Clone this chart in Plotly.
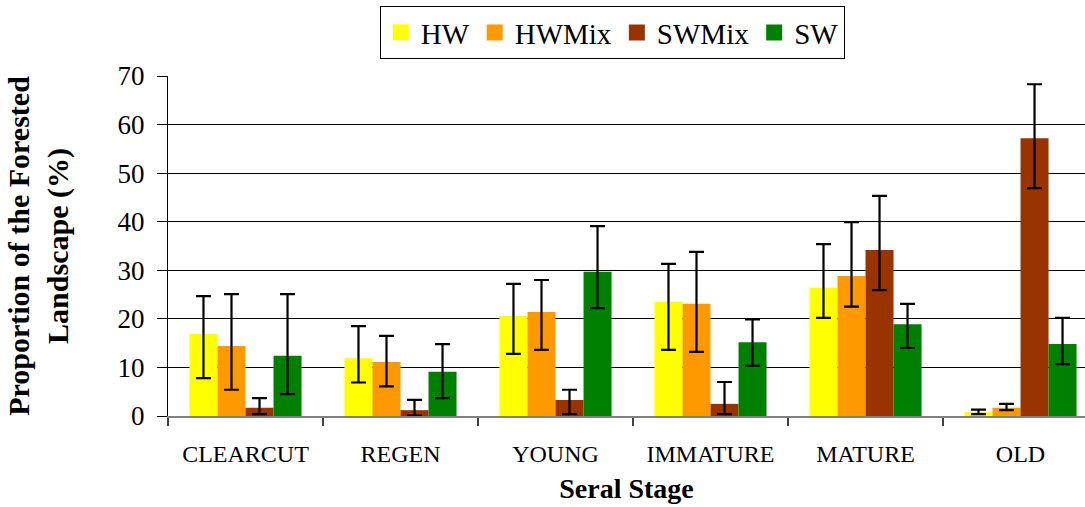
import plotly.graph_objects as go

categories = ["CLEARCUT", "REGEN", "YOUNG", "IMMATURE", "MATURE", "OLD"]
series_names = ["HW", "HWMix", "SWMix", "SW"]
colors = ["#FFFF00", "#FF9900", "#993300", "#008000"]

hw = [16.9, 11.9, 20.6, 23.5, 26.4, 0.8]
hw_hi = [24.7, 18.5, 27.2, 31.3, 35.4, 1.3]
hw_lo = [7.8, 6.9, 12.8, 13.6, 20.2, 0.4]

hwmix = [14.4, 11.1, 21.4, 23.1, 28.8, 1.7]
hwmix_hi = [25.1, 16.5, 28.0, 33.8, 39.9, 2.5]
hwmix_lo = [5.4, 6.1, 13.6, 13.2, 22.5, 1.2]

swmix = [1.7, 1.2, 3.3, 2.5, 34.2, 57.2]
swmix_hi = [3.7, 3.3, 5.4, 7.0, 45.3, 68.3]
swmix_lo = [0.4, 0.1, 0.4, 0.4, 25.9, 46.9]

sw = [12.4, 9.1, 29.7, 15.2, 18.9, 14.8]
sw_hi = [25.1, 14.8, 39.1, 19.9, 23.1, 20.2]
sw_lo = [4.5, 3.7, 22.2, 10.3, 14.0, 10.7]

y_ticks = [0, 10, 20, 30, 40, 50, 60, 70]

FONT = "Liberation Serif, Times New Roman, serif"

fig = go.Figure()
all_series = [(hw, hw_hi, hw_lo), (hwmix, hwmix_hi, hwmix_lo),
              (swmix, swmix_hi, swmix_lo), (sw, sw_hi, sw_lo)]
for name, color, (vals, hi, lo) in zip(series_names, colors, all_series):
    fig.add_trace(go.Bar(
        x=categories, y=vals, name=name, marker=dict(color=color, line=dict(width=0)),
        showlegend=False,
        error_y=dict(type="data", symmetric=False,
                     array=[h - v for h, v in zip(hi, vals)],
                     arrayminus=[v - l for v, l in zip(vals, lo)],
                     color="black", thickness=2.2, width=7.5),
    ))
    # legend proxy
    fig.add_trace(go.Scatter(
        x=[None], y=[None], mode="markers", name=name,
        marker=dict(symbol="square", size=20, color=color),
        showlegend=True,
    ))

fig.update_layout(
    width=1085, height=507,
    margin=dict(l=168, r=0, t=76, b=91),
    plot_bgcolor="white", paper_bgcolor="white",
    barmode="group", bargap=0.277, bargroupgap=0,
    font=dict(family=FONT, color="black"),
    legend=dict(
        orientation="h", xref="container", yref="container",
        x=0.350, y=0.988, xanchor="left", yanchor="top",
        font=dict(family=FONT, size=29, color="black"),
        bordercolor="black", borderwidth=1, bgcolor="white",
        itemwidth=30, tracegroupgap=0,
    ),
    xaxis=dict(
        type="category", range=[-0.5, 5.416], automargin=False,
        showline=True, linecolor="#808080", linewidth=1.5,
        ticks="outside", tickson="boundaries", ticklen=8, tickcolor="#404040", tickwidth=1.5,
        tickfont=dict(family=FONT, size=24, color="black"),
        ticklabelstandoff=15,
        showgrid=False,
        title=dict(text="<b>Seral Stage</b>", font=dict(family=FONT, size=28, color="black"), standoff=13),
    ),
    yaxis=dict(
        range=[0, 70], tickvals=y_ticks, automargin=False,
        showline=True, linecolor="black", linewidth=1,
        ticks="outside", ticklen=10, tickcolor="black",
        tickfont=dict(family=FONT, size=27, color="black"),
        ticklabelstandoff=7,
        showgrid=True, gridcolor="black", gridwidth=1,
        zeroline=False,
        title=dict(text="<b>Proportion of the Forested<br>Landscape (%)</b>",
                   font=dict(family=FONT, size=30, color="black"), standoff=40),
    ),
)

fig.write_html("out.html")
